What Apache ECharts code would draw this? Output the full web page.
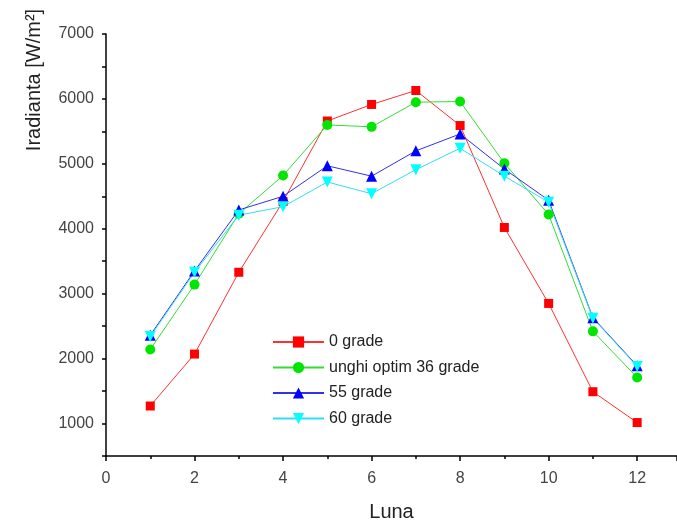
<!DOCTYPE html>
<html>
<head>
<meta charset="utf-8">
<script src="https://cdn.jsdelivr.net/npm/echarts@6/dist/echarts.min.js"></script>
<style>
  html, body { margin: 0; padding: 0; background: #fff; }
  #chart { width: 677px; height: 524px; }
</style>
</head>
<body>
<div id="chart"></div>
<script>
// luni (1..12)
var months = [1, 2, 3, 4, 5, 6, 7, 8, 9, 10, 11, 12]
var grade0 = [1270, 2070, 3330, 4420, 5660, 5915, 6130, 5590, 4020, 2850, 1490, 1015]
var grade36 = [2140, 3140, 4230, 4820, 5600, 5570, 5950, 5960, 5010, 4220, 2420, 1710]
var grade55 = [2360, 3350, 4290, 4500, 4970, 4810, 5200, 5460, 4920, 4440, 2630, 1890]
var grade60 = [2340, 3330, 4210, 4340, 4720, 4540, 4910, 5240, 4810, 4410, 2620, 1880]
var seriesNames = ['0 grade', 'unghi optim 36 grade', '55 grade', '60 grade']

function pairs(vals) {
    var out = []
    for (var i = 0; i < months.length; i++) {
        out.push([months[i], vals[i]])
    }
    return out
}

var chart = echarts.init(document.getElementById('chart'))
var font = '"Liberation Sans", Arial, sans-serif'

chart.setOption({
    animation: false,
    textStyle: { fontFamily: font },
    grid: { left: 106, top: 34, right: 0, bottom: 68, outerBoundsMode: 'none' },
    legend: {
        orient: 'vertical',
        left: 267,
        top: 329,
        itemWidth: 51,
        itemHeight: 14,
        itemGap: 9.5,
        data: seriesNames,
        textStyle: { fontSize: 16, color: '#222', fontFamily: font }
    },
    graphic: [{
        type: 'text',
        x: 34,
        y: 80,
        rotation: Math.PI / 2,
        style: {
            text: 'Iradianta [W/m²]',
            font: '20px ' + font,
            fill: '#222',
            align: 'center',
            verticalAlign: 'middle'
        }
    }],
    xAxis: {
        type: 'value',
        min: 0,
        max: 12.9,
        interval: 2,
        name: 'Luna',
        nameLocation: 'middle',
        nameGap: 46,
        nameTextStyle: { fontSize: 20, color: '#222' },
        axisLine: { lineStyle: { color: '#000', width: 1.5 } },
        axisTick: { length: 5, lineStyle: { color: '#000', width: 1.5 } },
        minorTick: { show: true, splitNumber: 2, length: 3, lineStyle: { color: '#000', width: 1.5 } },
        axisLabel: {
            fontSize: 16,
            color: '#444',
            margin: 15,
            showMaxLabel: false
        },
        splitLine: { show: false }
    },
    yAxis: {
        type: 'value',
        min: 500,
        max: 7000,
        interval: 500,
        axisLine: { show: true, lineStyle: { color: '#000', width: 1.5 } },
        axisTick: { show: true, length: 4, lineStyle: { color: '#000', width: 1.5 } },
        axisLabel: {
            fontSize: 16,
            color: '#444',
            margin: 12,
            formatter: function (v) { return v % 1000 === 0 ? String(v) : '' }
        },
        splitLine: { show: false }
    },
    series: [
        {
            name: seriesNames[0],
            type: 'line',
            data: pairs(grade0),
            symbol: 'rect',
            symbolSize: 9,
            itemStyle: { color: '#ff0000' },
            lineStyle: { width: 1, color: '#ff3030' }
        },
        {
            name: seriesNames[1],
            type: 'line',
            data: pairs(grade36),
            symbol: 'circle',
            symbolSize: 10,
            itemStyle: { color: '#00e600' },
            lineStyle: { width: 1, color: '#33dd33' }
        },
        {
            name: seriesNames[2],
            type: 'line',
            data: pairs(grade55),
            symbol: 'triangle',
            symbolSize: 11,
            itemStyle: { color: '#0000ff' },
            lineStyle: { width: 1, color: '#3030ee' }
        },
        {
            name: seriesNames[3],
            type: 'line',
            data: pairs(grade60),
            symbol: 'triangle',
            symbolRotate: 180,
            symbolSize: 11,
            itemStyle: { color: '#00ffff' },
            lineStyle: { width: 1, color: '#33ddee' }
        }
    ]
})
</script>
</body>
</html>
